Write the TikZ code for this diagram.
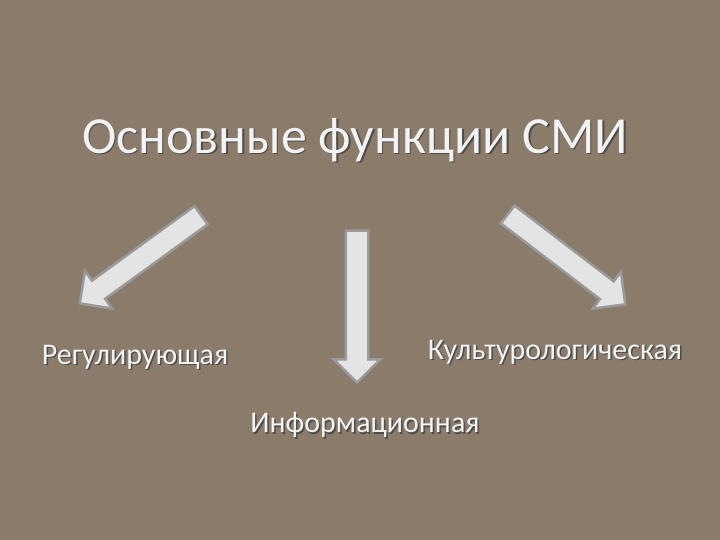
\documentclass[tikz,border=0pt]{standalone}
\usepackage{fontspec}
\setmainfont{Carlito}
\usetikzlibrary{shapes.arrows}
\definecolor{bg}{HTML}{8A7B6A}
\definecolor{arrfill}{HTML}{E4E4E4}
\definecolor{arrline}{HTML}{9A9A9A}
\definecolor{txt}{HTML}{F2F2F2}
\tikzset{
 blockarrow/.style={single arrow, draw=arrline, line width=2.5pt, fill=arrfill, single arrow head extend=12pt, single arrow tip angle=90, inner xsep=0pt, inner ysep=10pt, anchor=center, text width=0pt, text height=0pt, text depth=0pt, minimum height=#1},
 lbl/.style={text=txt, font=\fontsize{30}{34}\selectfont, inner sep=0pt},
 shd/.style={text=black!70, font=\fontsize{30}{34}\selectfont, inner sep=0pt},
}
\begin{document}
\begin{tikzpicture}[x=1pt,y=1pt]
\fill[bg] (0,0) rectangle (720,540);
\useasboundingbox (0,0) rectangle (720,540);
\node[text=black!70, font=\fontsize{52}{58}\selectfont, inner sep=0pt] (titleS) at (356.5,398.5) {Основные функции СМИ};
\node[text=txt, font=\fontsize{52}{58}\selectfont, inner sep=0pt] (title) at (355,400) {Основные функции СМИ};
\node[blockarrow=150pt, rotate=216] (a1) at (145,284) {};
\node[blockarrow=152pt, rotate=270] (a2) at (357,239) {};
\node[blockarrow=148pt, rotate=-37.4] (a3) at (562,284) {};
\node[shd] (l1s) at (136.5,181.5) {Регулирующая};
\node[lbl] (l1) at (135,183) {Регулирующая};
\node[shd] (l2s) at (556.5,186.5) {Культурологическая};
\node[lbl] (l2) at (555,188) {Культурологическая};
\node[shd] (l3s) at (366.5,113.5) {Информационная};
\node[lbl] (l3) at (365,115) {Информационная};
\end{tikzpicture}
\end{document}
